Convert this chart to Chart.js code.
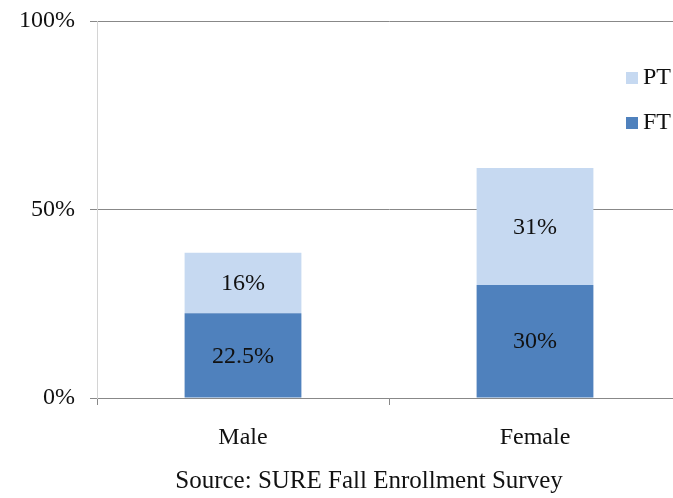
<!DOCTYPE html>
<html>
<head>
<meta charset="utf-8">
<script src="https://cdn.jsdelivr.net/npm/chart.js@4/dist/chart.umd.min.js"></script>
<style>
html,body{margin:0;padding:0;background:#fff;overflow:hidden;}
#wrap{width:700px;height:498px;}
</style>
</head>
<body>
<div id="wrap"><canvas id="c" width="700" height="498"></canvas></div>
<script>
const categories = ["Male", "Female"];
const ftValues = [22.5, 30];
const ptValues = [16, 31];
const ftLabels = ["22.5%", "30%"];
const ptLabels = ["16%", "31%"];
const yTicks = [0, 50, 100];
const sourceText = "Source: SURE Fall Enrollment Survey";

const FONT = '"Liberation Serif", serif';
const FT_COLOR = "#4F81BD";
const PT_COLOR = "#C6D9F1";

const segLabels = {
  id: "segLabels",
  afterDatasetsDraw(chart) {
    const ctx = chart.ctx;
    ctx.save();
    ctx.font = "24px " + FONT;
    ctx.fillStyle = "#111";
    ctx.textAlign = "center";
    ctx.textBaseline = "middle";
    chart.data.datasets.forEach((ds, di) => {
      const meta = chart.getDatasetMeta(di);
      meta.data.forEach((el, i) => {
        const y = (el.y + el.base) / 2;
        ctx.fillText(ds.valueLabels[i], el.x, y + 1);
      });
    });
    ctx.restore();
  }
};

const legendAndSource = {
  id: "legendAndSource",
  afterDraw(chart) {
    const ctx = chart.ctx;
    ctx.save();
    const items = [chart.data.datasets[1], chart.data.datasets[0]];
    items.forEach((ds, k) => {
      const top = 72 + k * 45;
      ctx.fillStyle = ds.backgroundColor;
      ctx.fillRect(626, top, 12, 12);
      ctx.fillStyle = "#111";
      ctx.font = "24px " + FONT;
      ctx.textAlign = "left";
      ctx.textBaseline = "middle";
      ctx.fillText(ds.label, 643, top + 6);
    });
    ctx.font = "25px " + FONT;
    ctx.textAlign = "center";
    ctx.textBaseline = "middle";
    ctx.fillText(sourceText, 369, 481);
    ctx.restore();
  }
};

new Chart(document.getElementById("c"), {
  type: "bar",
  data: {
    labels: categories,
    datasets: [
      { label: "FT", data: ftValues, valueLabels: ftLabels, backgroundColor: FT_COLOR, barPercentage: 0.8, categoryPercentage: 0.5 },
      { label: "PT", data: ptValues, valueLabels: ptLabels, backgroundColor: PT_COLOR, barPercentage: 0.8, categoryPercentage: 0.5 }
    ]
  },
  options: {
    responsive: false,
    devicePixelRatio: 1,
    animation: false,
    layout: { padding: { top: 21, right: 19, left: 0, bottom: 0 } },
    plugins: { legend: { display: false }, tooltip: { enabled: false } },
    scales: {
      x: {
        stacked: true,
        offset: true,
        grid: { offset: true, drawOnChartArea: false, drawTicks: true, tickLength: 7, color: "#888", lineWidth: 1 },
        border: { color: "#888" },
        ticks: { font: { family: FONT, size: 24 }, color: "#111", padding: 18 },
        afterFit(s) { s.height = 100; s.paddingLeft = 0; s.paddingRight = 0; }
      },
      y: {
        stacked: true,
        min: 0,
        max: 100,
        afterBuildTicks(s) { s.ticks = yTicks.map(v => ({ value: v })); },
        grid: { color: "#888", tickLength: 7, drawTicks: true, lineWidth: 1 },
        border: { color: "#d4d4d4" },
        ticks: { font: { family: FONT, size: 24 }, color: "#111", padding: 15, callback: v => v + "%" },
        afterFit(s) { s.width = 97; s.paddingTop = 0; s.paddingBottom = 0; }
      }
    }
  },
  plugins: [segLabels, legendAndSource]
});
</script>
</body>
</html>
